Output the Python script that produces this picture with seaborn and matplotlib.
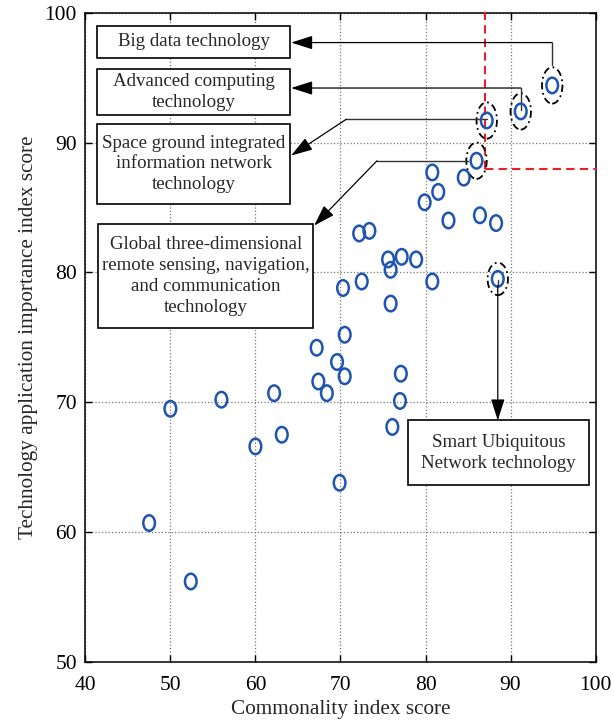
import numpy as np
import pandas as pd
import matplotlib
matplotlib.use("Agg")
import matplotlib.pyplot as plt
import seaborn as sns
from matplotlib.path import Path
from matplotlib.patches import Ellipse, Rectangle

# DATA
commonality = [94.9, 91.2, 87.2, 86.0, 80.8, 84.5, 81.5, 79.9, 82.7, 86.4, 88.3,
               72.2, 73.4, 75.6, 77.2, 78.9, 75.9, 72.5, 80.8, 88.5, 70.3, 75.9,
               70.5, 67.2, 69.6, 77.1, 70.5, 67.4, 62.2, 68.4, 56.0, 50.0, 77.0,
               76.1, 63.1, 60.0, 69.9, 47.5, 52.4]
importance = [94.4, 92.4, 91.7, 88.6, 87.7, 87.3, 86.2, 85.4, 84.0, 84.4, 83.8,
              83.0, 83.2, 81.0, 81.2, 81.0, 80.2, 79.3, 79.3, 79.5, 78.8, 77.6,
              75.2, 74.2, 73.1, 72.2, 72.0, 71.6, 70.7, 70.7, 70.2, 69.5, 70.1,
              68.1, 67.5, 66.6, 63.8, 60.7, 56.2]

highlight_idx = [0, 1, 2, 3, 19]
labels = ["Big data technology",
          "Advanced computing\ntechnology",
          "Space ground integrated\ninformation network\ntechnology",
          "Global three-dimensional\nremote sensing, navigation,\nand communication\ntechnology",
          "Smart Ubiquitous\nNetwork technology"]

x_ticks = [40, 50, 60, 70, 80, 90, 100]
y_ticks = [50, 60, 70, 80, 90, 100]
threshold_x = 87
threshold_y = 88

df = pd.DataFrame({"Commonality": commonality, "Importance": importance})

# STYLE
sns.set_theme(style="ticks")
plt.rcParams["font.family"] = ["Liberation Serif", "DejaVu Serif"]
plt.rcParams["xtick.direction"] = "in"
plt.rcParams["ytick.direction"] = "in"

fig = plt.figure(figsize=(6.14, 7.26), dpi=100)
ax = fig.add_axes([0.139, 0.0882, 0.831, 0.8943])

blue = "#1f55b0"
line_c = "#333333"

# tall ellipse marker (figure is stretched vertically)
circ = Path.unit_circle()
ell_marker = Path(circ.vertices * np.array([0.75, 1.0]), circ.codes)

sns.scatterplot(data=df, x="Commonality", y="Importance", ax=ax,
                marker=ell_marker, s=125, facecolor="none", edgecolor=blue,
                linewidth=1.8, zorder=5)

# dash-dot rings around the highlighted technologies
for i in highlight_idx:
    h = 2.5 if i == 19 else 2.8
    ax.add_patch(Ellipse((commonality[i], importance[i]), 2.4, h, fill=False,
                         ec="black", ls=(0, (4, 2, 1, 2)), lw=1.3, zorder=4))

# red threshold lines
ax.plot([threshold_x, threshold_x], [threshold_y, 100.3], color="#e8202a", ls="--",
        lw=1.5, dashes=(4, 2.5), clip_on=False, zorder=3)
ax.plot([threshold_x, 100.2], [threshold_y, threshold_y], color="#e8202a", ls="--",
        lw=1.5, dashes=(4, 2.5), clip_on=False, zorder=3)

# label boxes
box_fs = 13.6
boxes = [(41.4, 96.5, 64.1, 99.0),
         (41.4, 92.1, 64.1, 95.7),
         (41.4, 85.3, 64.1, 91.4),
         (41.5, 75.7, 66.8, 83.7),
         (78.0, 63.6, 99.2, 68.6)]
for (x0, y0, x1, y1), lab in zip(boxes, labels):
    ax.add_patch(Rectangle((x0, y0), x1 - x0, y1 - y0, fc="white", ec="black",
                           lw=1.2, zorder=6))
    ax.text((x0 + x1) / 2, (y0 + y1) / 2, lab, ha="center", va="center",
            fontsize=box_fs, linespacing=1.3, zorder=7)

arrow_kw = dict(arrowstyle="-|>,head_length=1.1,head_width=0.35", color="black",
                lw=0.9, shrinkA=0, shrinkB=0)

def leader(path, tip):
    xs, ys = zip(*path)
    ax.plot(xs, ys, color=line_c, lw=1.0, zorder=4)
    ax.annotate("", xy=tip, xytext=path[-1], arrowprops=arrow_kw, zorder=8)

leader([(94.9, 96.0), (94.9, 97.7)], (64.2, 97.7))
leader([(91.2, 92.5), (91.2, 94.2)], (64.2, 94.2))
leader([(87.2, 91.8), (70.7, 91.8)], (64.2, 89.0))
leader([(85.0, 88.6), (74.3, 88.6)], (66.9, 83.6))
leader([(88.5, 79.4), (88.5, 79.0)], (88.5, 68.6))

# AXES
ax.set_xlim(40, 100)
ax.set_ylim(50, 100)
ax.set_xticks(x_ticks)
ax.set_yticks(y_ticks)
ax.grid(True, color="#777777", ls=":", lw=0.9)
ax.tick_params(axis="both", which="both", top=True, right=True, length=5,
               width=1, labelsize=15.5, colors="black")
ax.tick_params(axis="x", pad=10)
ax.tick_params(axis="y", pad=6)
for sp in ax.spines.values():
    sp.set_color("black")
    sp.set_linewidth(1.1)
ax.set_xlabel("Commonality index score", fontsize=15.3, labelpad=4)
ax.set_ylabel("Technology application importance index score", fontsize=15.3, labelpad=5)

plt.savefig("out.png", dpi=100)
